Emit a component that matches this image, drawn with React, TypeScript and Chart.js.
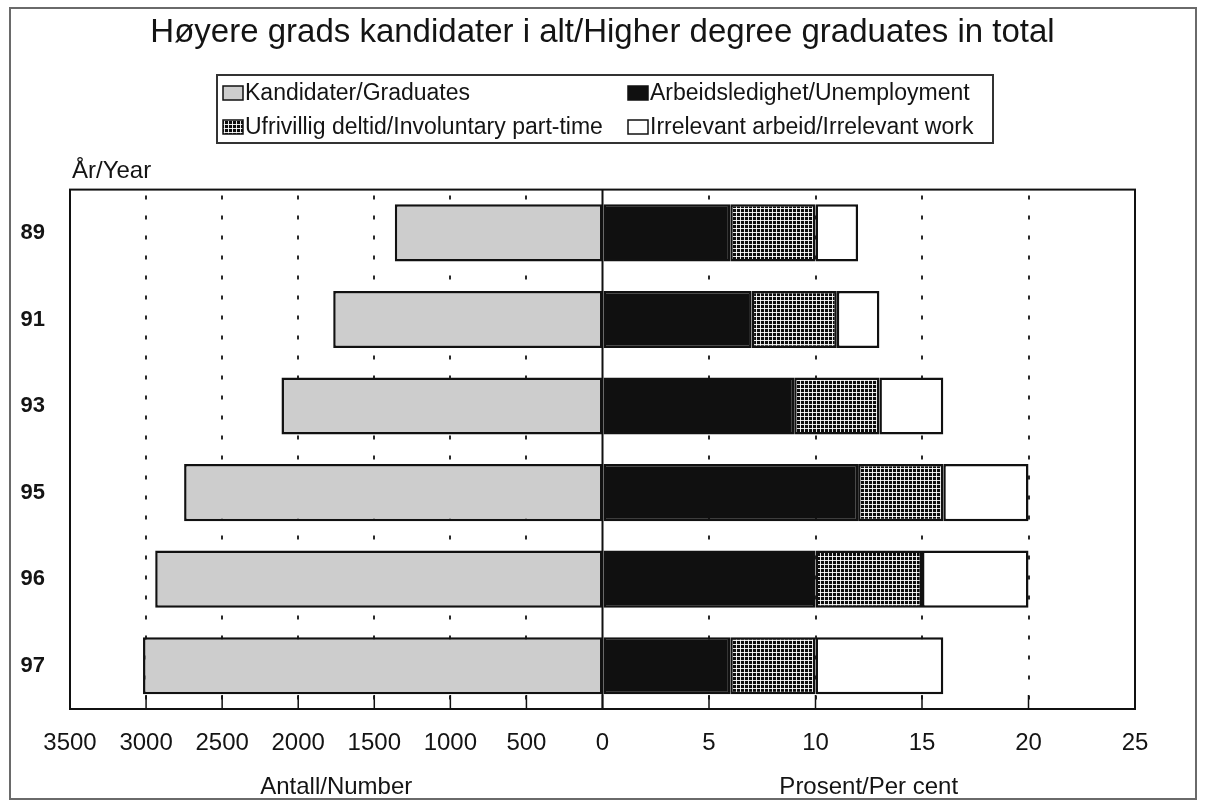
import React, { useEffect, useRef } from 'react';
import { Chart, registerables } from 'chart.js';

Chart.register(...registerables);

// ---- data ----
const years = ['89', '91', '93', '95', '96', '97'];
const graduates = [1365, 1770, 2110, 2750, 2940, 3020];
const unemployment = [6, 7, 9, 12, 10, 6];
const partTime = [4, 4, 4, 4, 5, 4];
const irrelevant = [2, 2, 3, 4, 5, 6];
const numberTicks = [3500, 3000, 2500, 2000, 1500, 1000, 500];
const percentTicks = [0, 5, 10, 15, 20, 25];

const seriesLabels = [
  'Kandidater/Graduates',
  'Arbeidsledighet/Unemployment',
  'Ufrivillig deltid/Involuntary part-time',
  'Irrelevant arbeid/Irrelevant work',
];
const TITLE = 'Høyere grads kandidater i alt/Higher degree graduates in total';
const YEAR_LABEL = 'År/Year';
const NUMBER_TITLE = 'Antall/Number';
const PERCENT_TITLE = 'Prosent/Per cent';

const NUM_MAX = numberTicks[0];
const PCT_MAX = percentTicks[percentTicks.length - 1];

const FAMILY = '"Liberation Sans", Arial, Helvetica, sans-serif';
const TEXT = '#141414';
const INK = '#111111';

function makeDotPattern(ctx: CanvasRenderingContext2D) {
  const c = document.createElement('canvas');
  c.width = 4;
  c.height = 4;
  const g = c.getContext('2d')!;
  g.fillStyle = '#0d0d0d';
  g.fillRect(0, 0, 4, 4);
  g.fillStyle = '#e6e6e6';
  g.fillRect(0, 0, 4, 1);
  g.fillRect(0, 0, 1, 4);
  g.fillStyle = '#ffffff';
  g.fillRect(0, 0, 1, 1);
  return ctx.createPattern(c, 'repeat');
}

const decor = {
  id: 'decor',
  beforeDraw(chart: any) {
    const { ctx, width, height } = chart;
    ctx.save();
    ctx.fillStyle = '#ffffff';
    ctx.fillRect(0, 0, width, height);
    ctx.strokeStyle = '#6a6a6a';
    ctx.lineWidth = 2;
    ctx.strokeRect(10, 8, 1186, 791);
    ctx.restore();
  },
  beforeDatasetsDraw(chart: any) {
    const { ctx, chartArea: a, scales } = chart;
    const x = scales.x;
    const x0 = x.getPixelForValue(0);
    ctx.save();
    ctx.strokeStyle = INK;
    ctx.lineWidth = 2;
    ctx.beginPath();
    ctx.moveTo(x0, a.top);
    ctx.lineTo(x0, a.bottom);
    ctx.stroke();
    ctx.restore();
  },
  afterDatasetsDraw(chart: any) {
    const { ctx, chartArea: a, scales, data } = chart;
    const x = scales.x;
    const x0 = x.getPixelForValue(0);
    ctx.save();
    ctx.strokeStyle = INK;
    ctx.lineWidth = 1.5;
    // short inner tick marks along the bottom
    for (const t of x.ticks) {
      const px = x.getPixelForValue(t.value);
      ctx.beginPath();
      ctx.moveTo(px, a.bottom - 14);
      ctx.lineTo(px, a.bottom);
      ctx.stroke();
    }
    // plot frame
    ctx.lineWidth = 2;
    ctx.strokeRect(a.left, a.top, a.right - a.left, a.bottom - a.top);

    // axis titles for each half
    ctx.fillStyle = TEXT;
    ctx.font = `24px ${FAMILY}`;
    ctx.textAlign = 'center';
    ctx.textBaseline = 'middle';
    ctx.fillText(NUMBER_TITLE, (a.left + x0) / 2, 787);
    ctx.fillText(PERCENT_TITLE, (x0 + a.right) / 2, 787);

    // year label above the category axis
    ctx.textAlign = 'left';
    ctx.fillText(YEAR_LABEL, a.left + 2, 171);

    // legend box
    ctx.lineWidth = 2;
    ctx.strokeStyle = '#333333';
    ctx.strokeRect(217, 75, 776, 68);
    const slots = [
      { x: 223, y: 93 },
      { x: 628, y: 93 },
      { x: 223, y: 127 },
      { x: 628, y: 127 },
    ];
    ctx.font = `23px ${FAMILY}`;
    ctx.textBaseline = 'middle';
    data.datasets.forEach((ds: any, i: number) => {
      const s = slots[i];
      ctx.fillStyle = ds.backgroundColor;
      ctx.fillRect(s.x, s.y - 7, 20, 14);
      ctx.strokeStyle = INK;
      ctx.lineWidth = 1.5;
      ctx.strokeRect(s.x, s.y - 7, 20, 14);
      ctx.fillStyle = TEXT;
      ctx.fillText(ds.label, s.x + 22, s.y + 1);
    });
    ctx.restore();
  },
};

export default function App() {
  const ref = useRef<HTMLCanvasElement | null>(null);

  useEffect(() => {
    document.body.style.margin = '0';
    const canvas = ref.current!;
    const ctx = canvas.getContext('2d')!;
    const dots = makeDotPattern(ctx);

    const isEdgeOrZero = (v: number) =>
      Math.abs(v) < 1e-9 || Math.abs(Math.abs(v) - PCT_MAX) < 1e-9;

    const chart = new Chart(canvas, {
      type: 'bar',
      data: {
        labels: years,
        datasets: [
          { label: seriesLabels[0], data: graduates, xAxisID: 'xn', yAxisID: 'y', backgroundColor: '#cdcdcd' },
          { label: seriesLabels[1], data: unemployment, xAxisID: 'x', yAxisID: 'y', backgroundColor: '#101010' },
          { label: seriesLabels[2], data: partTime, xAxisID: 'x', yAxisID: 'y', backgroundColor: dots as any },
          { label: seriesLabels[3], data: irrelevant, xAxisID: 'x', yAxisID: 'y', backgroundColor: '#ffffff' },
        ],
      },
      options: {
        indexAxis: 'y',
        responsive: false,
        animation: false,
        layout: { padding: 0 },
        datasets: {
          bar: {
            borderColor: INK,
            borderWidth: 2.5,
            borderSkipped: false,
            barPercentage: 0.66,
            categoryPercentage: 1,
            stack: 'all',
          } as any,
        },
        scales: {
          x: {
            type: 'linear',
            position: 'bottom',
            min: -PCT_MAX,
            max: PCT_MAX,
            stacked: true,
            afterBuildTicks: (axis: any) => {
              axis.ticks = [
                ...numberTicks.map((v) => ({ value: (-v * PCT_MAX) / NUM_MAX })),
                ...percentTicks.map((v) => ({ value: v })),
              ];
            },
            afterFit: (s: any) => {
              s.height = 91;
            },
            ticks: {
              autoSkip: false,
              maxRotation: 0,
              padding: 20,
              color: TEXT,
              font: { family: FAMILY, size: 24 },
              callback: (value: any) => {
                const v = Number(value);
                return v < 0 ? String(Math.round((-v * NUM_MAX) / PCT_MAX)) : String(Math.round(v));
              },
            },
            grid: {
              drawTicks: false,
              lineWidth: 2,
              color: (c: any) => {
                const v = c.tick ? c.tick.value : 0;
                return isEdgeOrZero(v) ? 'rgba(0,0,0,0)' : '#2a2a2a';
              },
            },
            border: { display: false, dash: [4, 16], dashOffset: 14 },
          },
          xn: {
            type: 'linear',
            display: false,
            min: -NUM_MAX,
            max: NUM_MAX,
            reverse: true,
            stacked: true,
          },
          y: {
            type: 'category',
            position: 'left',
            stacked: true,
            afterFit: (s: any) => {
              s.width = 70;
            },
            grid: { display: false, drawTicks: false },
            border: { display: false },
            ticks: {
              padding: 25,
              color: TEXT,
              font: { family: FAMILY, size: 22, weight: 'bold' },
            },
          },
          yr: {
            type: 'linear',
            position: 'right',
            display: true,
            afterFit: (s: any) => {
              s.width = 70;
            },
            grid: { display: false, drawTicks: false },
            border: { display: false },
            ticks: { display: false },
          },
        } as any,
        plugins: {
          legend: { display: false },
          tooltip: { enabled: false },
          title: {
            display: true,
            text: TITLE,
            color: TEXT,
            font: { family: FAMILY, size: 33, weight: 'normal' },
            padding: { top: 13, bottom: 137 },
          },
        },
      },
      plugins: [decor],
    });

    return () => chart.destroy();
  }, []);

  return (
    <div style={{ width: 1205, height: 800 }}>
      <canvas ref={ref} width={1205} height={800} style={{ display: 'block' }} />
    </div>
  );
}
